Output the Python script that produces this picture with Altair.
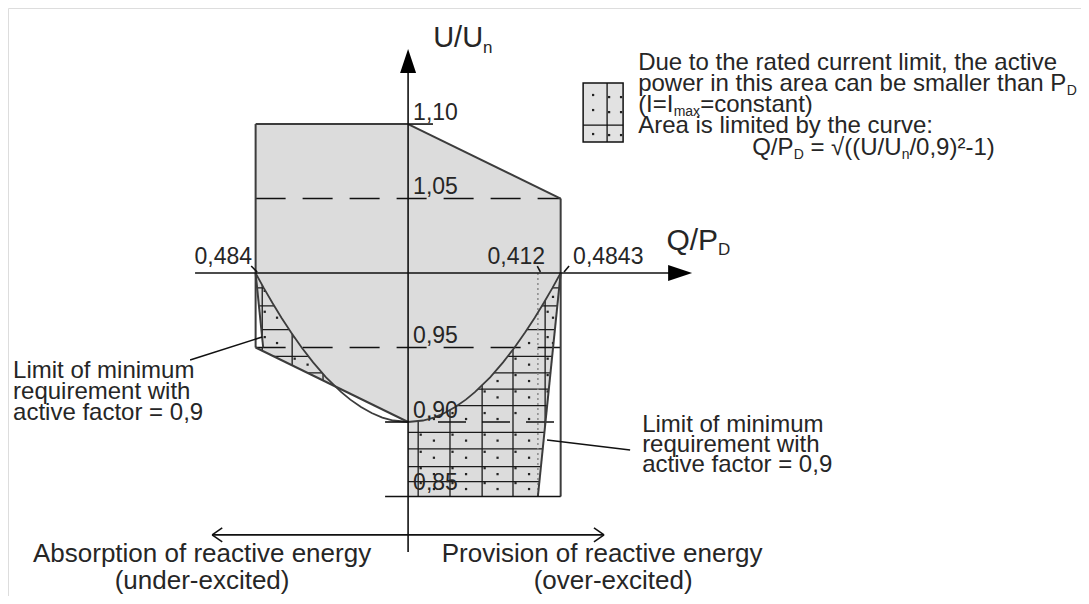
import altair as alt
import pandas as pd

# ---------------- values ----------------
# limiting curve Q/P_D = sqrt((U/Un/0.9)^2 - 1), read at these voltages
curve_u = [0.900, 0.901, 0.903, 0.906, 0.910, 0.915, 0.920, 0.930, 0.940,
           0.950, 0.960, 0.970, 0.980, 0.990, 1.000]
curve_q = [0.0, 0.0471, 0.0817, 0.1157, 0.1495, 0.1833, 0.2120, 0.2604, 0.3014,
           0.3379, 0.3712, 0.4020, 0.4309, 0.4583, 0.4843]

q_left = -0.484
q_right = 0.4843
q_limit_low = 0.412      # right limit line reaches this at U = 0.85
q_limit_left = -0.460    # left limit line reaches this at U = 0.95
u_top, u_105, u_one, u_095, u_090, u_085 = 1.10, 1.05, 1.00, 0.95, 0.90, 0.85

# hatch pattern (grid + dots) positions
hatch_v_right = [0.032, 0.133, 0.235, 0.333, 0.435]
hatch_v_left = [-0.463, -0.368, -0.270]
hatch_h_right = [0.860, 0.870, 0.882, 0.893, 0.911, 0.922, 0.933, 0.944, 0.962, 0.978, 0.990]
hatch_h_left = [0.911, 0.922, 0.933, 0.944, 0.962, 0.978, 0.990]
dot_cols_right = [0.082, 0.184, 0.284, 0.384, 0.460]
dot_cols_left = [-0.416, -0.319, -0.220, -0.120]
dot_rows = [0.855, 0.865, 0.876, 0.8875, 0.902, 0.9165, 0.9275, 0.9385, 0.953, 0.970, 0.984, 0.995]

XS = alt.Scale(domain=[-1.27, 2.136], nice=False, zero=False)
YS = alt.Scale(domain=[0.7832, 1.1779], nice=False, zero=False)
GRAY = "#dcdcdc"
EDGE = "#3c3c3c"
TXT = "#262626"
FONT = "Liberation Sans"


def X(f="q"):
    return alt.X(f"{f}:Q", scale=XS, axis=None)


def Y(f="u"):
    return alt.Y(f"{f}:Q", scale=YS, axis=None)


def seg_df(rows):
    return pd.DataFrame(rows, columns=["q", "u", "q2", "u2"])


def rules(rows, color, width, dash=None):
    kw = dict(color=color, strokeWidth=width)
    if dash:
        kw["strokeDash"] = dash
    return alt.Chart(seg_df(rows)).mark_rule(**kw).encode(
        x=X(), y=Y(), x2="q2:Q", y2="u2:Q")


def harea(u, q1, q2, color):
    df = pd.DataFrame({"u": u, "q": q1, "q2": q2})
    return alt.Chart(df).mark_area(orient="horizontal", color=color, opacity=1).encode(
        y=Y(), x=X(), x2="q2:Q")


def texts(rows, align="left", font=FONT, color=TXT):
    df = pd.DataFrame(rows, columns=["t", "q", "u", "fs"])
    return alt.Chart(df).mark_text(align=align, baseline="alphabetic", font=font, color=color).encode(
        x=X(), y=Y(), text="t:N", size=alt.Size("fs:Q", scale=None))


layers = []

# 1. hatched areas: background rectangles
hatch_bg = pd.DataFrame({"q": [0.0, q_left], "q2": [q_right, 0.0],
                         "u": [u_085, u_090], "u2": [u_one, u_one]})
layers.append(alt.Chart(hatch_bg).mark_rect(color=GRAY).encode(
    x=X(), x2="q2:Q", y=Y(), y2="u2:Q"))

# 2. hatch grid
grid_rows = ([(v, u_085, v, u_one) for v in hatch_v_right]
             + [(v, u_090, v, u_one) for v in hatch_v_left]
             + [(0.0, h, q_right, h) for h in hatch_h_right]
             + [(q_left, h, 0.0, h) for h in hatch_h_left])
layers.append(rules(grid_rows, "#1a1a1a", 1.3))

# 3. hatch dots
dots = ([(c, r) for c in dot_cols_right for r in dot_rows]
        + [(c, r) for c in dot_cols_left for r in dot_rows if r > u_090]
        + [(v + 0.008, r + 0.004) for v in hatch_v_right for r in dot_rows]
        + [(v + 0.008, r + 0.004) for v in hatch_v_left for r in dot_rows if r > u_090])
dots_df = pd.DataFrame(dots, columns=["q", "u"])
layers.append(alt.Chart(dots_df).mark_square(color="#222", size=5, opacity=1).encode(x=X(), y=Y()))

# 4. plain grey region (above the curve)
main_u = curve_u + [u_105, u_top]
main_l = [-q for q in curve_q[:-1]] + [q_left, q_left, q_left]
main_r = curve_q + [q_right, 0.0]
layers.append(harea(main_u, main_l, main_r, GRAY))

# 5. white masks outside the hatched areas
layers.append(harea([u_085, u_one], [q_limit_low, q_right], [q_right, q_right], "white"))
layers.append(harea([u_090, u_095], [-0.49, -0.49], [0.0, q_left], "white"))
layers.append(harea([u_095, u_one], [-0.49, -0.49], [q_limit_left, q_left], "white"))

# 6. dashed lines
layers.append(rules([(q_left, u_105, q_right, u_105), (q_left, u_095, q_right, u_095)],
                    "#111", 1.6, [30, 17]))
layers.append(rules([(0.095, u_090, q_right, u_090)], "#111", 1.6, [28, 16]))

# 7. dotted line at 0.412
layers.append(rules([(q_limit_low, u_one, q_limit_low, u_085)], "#8a8a8a", 1.5, [2, 3]))

# 8. the curve
cq = [-q for q in curve_q[::-1]] + curve_q[1:]
cu = curve_u[::-1] + curve_u[1:]
curve_df = pd.DataFrame({"q": cq, "u": cu, "o": list(range(len(cq)))})
layers.append(alt.Chart(curve_df).mark_line(color=EDGE, strokeWidth=1.8).encode(
    x=X(), y=Y(), order="o:Q"))

# 9. outline of the area
outline = [
    (q_left, u_top, 0.0, u_top),
    (0.0, u_top, q_right, u_105),
    (q_right, u_105, q_right, u_085),
    (q_left, u_top, q_left, u_095),
    (q_left, u_095, 0.0, u_090),
    (q_right, u_one, q_limit_low, u_085),
    (q_left, u_one, q_limit_left, u_095),
]
layers.append(rules(outline, EDGE, 2.0))

# 10. axes, ticks, leaders, bottom arrow
arrow_u = 0.8242
thin = [
    (0.0, u_top, 0.079, u_top),
    (-0.073, u_090, 0.0, u_090),
    (-0.073, u_085, q_right, u_085),
    (-0.6762, u_one, 0.8635, u_one),
    (0.0, 0.8128, 0.0, 1.1423),
    (-0.692, 0.9416, -0.4635, 0.957),
    (0.441, 0.8879, 0.7048, 0.8812),
    (-0.498, 1.0047, -0.479, 1.0007),
    (0.410, 1.0047, 0.420, 1.0007),
    (0.511, 1.0047, 0.495, 1.0007),
    (-0.622, arrow_u, 0.622, arrow_u),
    (-0.622, arrow_u, -0.590, arrow_u + 0.0047),
    (-0.622, arrow_u, -0.590, arrow_u - 0.0047),
    (0.622, arrow_u, 0.590, arrow_u + 0.0047),
    (0.622, arrow_u, 0.590, arrow_u - 0.0047),
]
layers.append(rules(thin, "#111", 1.6))

# 11. arrow heads
heads = pd.DataFrame({"q": [0.8635], "u": [u_one]})
layers.append(alt.Chart(heads).mark_point(shape="M -1 -0.667 L 1 0 L -1 0.667 Z", size=576,
                                          filled=True, color="#000", opacity=1).encode(x=X(), y=Y()))
heads2 = pd.DataFrame({"q": [0.0], "u": [1.1423]})
layers.append(alt.Chart(heads2).mark_point(shape="M -0.667 1 L 0 -1 L 0.667 1 Z", size=576,
                                           filled=True, color="#000", opacity=1).encode(x=X(), y=Y()))

# 12. legend symbol
leg = pd.DataFrame({"q": [0.5556], "q2": [0.6825], "u": [1.0879], "u2": [1.1275]})
layers.append(alt.Chart(leg).mark_rect(fill="#e2e2e2", stroke="#111", strokeWidth=1.5).encode(
    x=X(), x2="q2:Q", y=Y(), y2="u2:Q"))
layers.append(rules([(0.6317, 1.0879, 0.6317, 1.1275), (0.5556, 1.0993, 0.6825, 1.0993)], "#111", 1.3))
leg_dots = pd.DataFrame({"q": [0.5873, 0.5873, 0.5873, 0.6381, 0.6381, 0.6381, 0.676, 0.676, 0.676],
                         "u": [1.1195, 1.1094, 1.0933, 1.1181, 1.108, 1.0926, 1.1181, 1.108, 1.0926]})
layers.append(alt.Chart(leg_dots).mark_square(color="#222", size=5, opacity=1).encode(x=X(), y=Y()))

# 13. texts
layers.append(texts([
    ("1,10", 0.0159, 1.1027, 23), ("1,05", 0.0159, 1.0530, 23), ("0,95", 0.0159, 0.9530, 23),
    ("0,90", 0.0159, 0.9027, 23), ("0,85", 0.0159, 0.8544, 23),
    ("0,4843", 0.5238, 1.006, 23),
    ("n", 0.2381, 1.1477, 17), ("D", 0.9841, 1.0121, 17),
    ("Due to the rated current limit, the active", 0.7302, 1.1362, 24),
    ("power in this area can be smaller than P", 0.7302, 1.1221, 24),
    ("D", 2.0905, 1.1195, 14),
    ("(I=I", 0.7302, 1.1081, 24), ("max", 0.8429, 1.1054, 14), ("=constant)", 0.9270, 1.1081, 24),
    ("Area is limited by the curve:", 0.7302, 1.0940, 24),
    ("Q/P", 1.0921, 1.0792, 24), ("D", 1.2238, 1.0765, 14),
    ("= √((U/U", 1.2771, 1.0792, 24), ("n", 1.5667, 1.0765, 14), ("/0,9)²-1)", 1.5914, 1.0792, 24),
    ("Limit of minimum", -1.254, 0.9295, 24), ("requirement with", -1.254, 0.9154, 24),
    ("active factor = 0,9", -1.254, 0.9013, 24),
    ("Limit of minimum", 0.7429, 0.8933, 24), ("requirement with", 0.7429, 0.8799, 24),
    ("active factor = 0,9", 0.7429, 0.8664, 24),
]))
layers.append(texts([
    ("0,484", -0.4952, 1.006, 23), ("0,412", 0.4349, 1.006, 23),
    ("U/U", 0.2381, 1.1517, 29), ("Q/P", 0.9841, 1.0154, 30),
], align="right"))
layers.append(texts([
    ("Absorption of reactive energy", -0.654, 0.8060, 26),
    ("(under-excited)", -0.654, 0.7879, 26),
    ("Provision of reactive energy", 0.6159, 0.8060, 26),
    ("(over-excited)", 0.6508, 0.7879, 26),
], align="center"))

chart = alt.layer(*layers).properties(
    width=1073, height=588, padding=0,
    autosize=alt.AutoSizeParams(type="none"),
).configure_view(strokeWidth=0).configure(background="white")

chart.save("out.html", embed_options={"renderer": "svg", "actions": False})
